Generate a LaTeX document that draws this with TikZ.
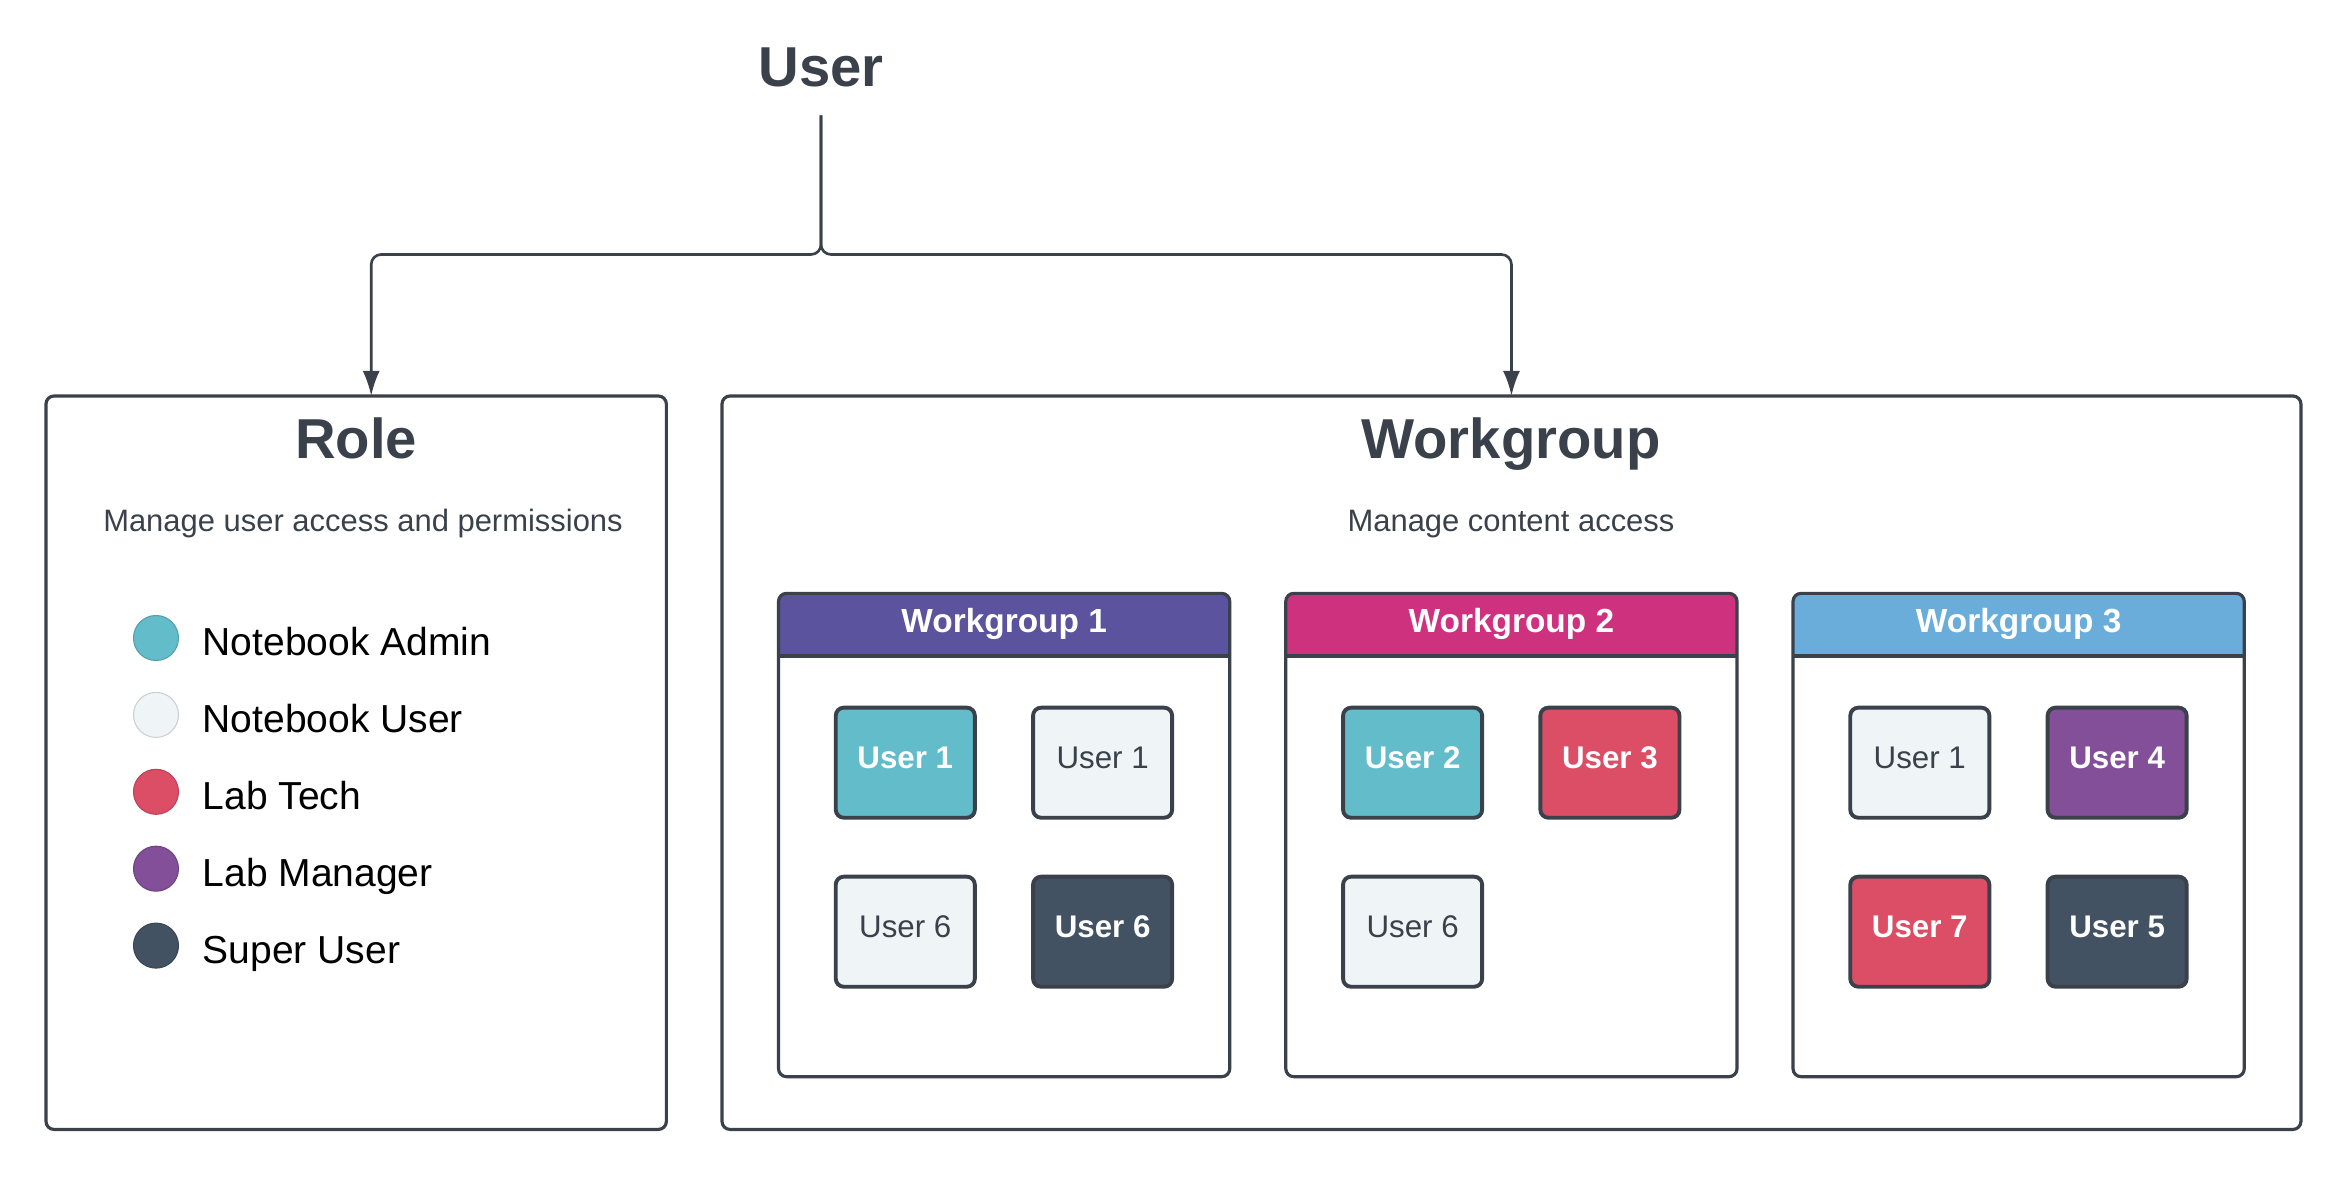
\documentclass[tikz,border=0pt]{standalone}
\usepackage{fontspec}
\setmainfont{Liberation Sans}
\usepackage{tikz}
\usetikzlibrary{arrows.meta,%
                positioning}

\definecolor{ink}{HTML}{3A414A}
\definecolor{admincol}{HTML}{62BCCA}
\definecolor{usercol}{HTML}{EFF4F7}
\definecolor{techcol}{HTML}{DC4E66}
\definecolor{mgrcol}{HTML}{824F98}
\definecolor{supercol}{HTML}{435262}
\definecolor{wgA}{HTML}{5B539D}
\definecolor{wgB}{HTML}{CE317E}
\definecolor{wgC}{HTML}{6AADDB}

\tikzset{
  headline/.style={font=\fontsize{16}{19}\selectfont\bfseries, text=ink},
  subline/.style={font=\fontsize{8.8}{11}\selectfont, text=ink},
  panel/.style={draw=ink, line width=0.9pt, rounded corners=0.08cm,
    outer sep=0pt, inner sep=0pt, anchor=north west},
  wgbox/.style={fill=white, rounded corners=0.08cm, outer sep=0pt, inner sep=0pt,
    anchor=north west, minimum width=4.51cm, minimum height=4.83cm},
  wghead/.style={font=\fontsize{9.5}{11}\selectfont\bfseries, text=white, anchor=base},
  conn/.style={draw=ink, line width=0.75pt, rounded corners=0.1cm,
    -{Latex[length=0.25cm,width=0.17cm]}},
  legdot/.style={circle, minimum size=0.45cm, inner sep=0pt, fill=#1,
    draw=#1!85!black, line width=0.3pt},
  legtext/.style={font=\fontsize{11.1}{13}\selectfont, text=black, anchor=base west,
    inner xsep=0pt},
  ubox/.style={draw=ink, line width=1.1pt, rounded corners=0.08cm,
    minimum width=1.39cm, minimum height=1.1cm, inner sep=0pt,
    font=\fontsize{8.9}{11}\selectfont, text=ink,
    text height=4.6pt, text depth=1.1pt},
  admin/.style={ubox, fill=admincol, text=white, font=\fontsize{8.9}{11}\selectfont\bfseries},
  nbuser/.style={ubox, fill=usercol},
  labtech/.style={ubox, fill=techcol, text=white, font=\fontsize{8.9}{11}\selectfont\bfseries},
  labmgr/.style={ubox, fill=mgrcol, text=white, font=\fontsize{8.9}{11}\selectfont\bfseries},
  superuser/.style={ubox, fill=supercol, text=white, font=\fontsize{8.9}{11}\selectfont\bfseries}
}

\begin{document}
\begin{tikzpicture}[x=0.01cm,y=-0.01cm]
\useasboundingbox (0,0) rectangle (2352,1186);

% top
\node[headline, anchor=base, inner ysep=0.27cm] (user) at (821,87) {User};

% the two panels
\node[panel, minimum width=6.2cm, minimum height=7.33cm] (role) at (46,396) {};
\node[panel, minimum width=15.78cm, minimum height=7.33cm] (wgall) at (722,396) {};

\node[headline, anchor=base] (roletitle) at (356,459) {Role};
\node[subline, anchor=base] (rolesub) at (363,532) {Manage user access and permissions};
\node[headline, anchor=base] (wgtitle) at (1511,459) {Workgroup};
\node[subline, anchor=base] (wgsub) at (1511,532) {Manage content access};

% connectors
\coordinate (split) at (821,254.5);
\draw[conn] (user.south) -- (split) -| ([xshift=0.15cm]role.north);
\draw[conn] (user.south) -- (split) -| (wgall.north);

% legend
\foreach \st/\txt [count=\k from 0] in {admincol/Notebook Admin, usercol/Notebook User,
    techcol/Lab Tech, mgrcol/Lab Manager, supercol/Super User}{
  \node[legdot=\st] (dot\k) at (156,{638+76.9*\k}) {};
  \node[legtext] (leg\k) at (202,{656+76.9*\k}) {\txt};
}

% workgroups
\foreach \i/\col/\xx in {1/wgA/778.5, 2/wgB/1285.75, 3/wgC/1793}{
  \node[wgbox] (wg\i) at (\xx,593.4) {};
  \begin{scope}
    \clip[rounded corners=0.08cm] (wg\i.south west) rectangle (wg\i.north east);
    \fill[\col] (wg\i.north west) rectangle ([yshift=-0.626cm]wg\i.north east);
  \end{scope}
  \draw[ink, line width=0.9pt, rounded corners=0.08cm] (wg\i.south west) rectangle (wg\i.north east);
  \draw[ink, line width=1.1pt] ([yshift=-0.626cm]wg\i.north west) -- ([yshift=-0.626cm]wg\i.north east);
  \node[wghead] (wghead\i) at ([yshift=-0.386cm]wg\i.north) {Workgroup \i};
}

% members
\foreach \nm/\st/\x/\y/\txt in {
    w1a/admin/905.3/762.7/User 1, w1b/nbuser/1102.6/762.7/User 1,
    w1c/nbuser/905.3/931.7/User 6, w1d/superuser/1102.6/931.7/User 6,
    w2a/admin/1412.6/762.7/User 2, w2b/labtech/1609.9/762.7/User 3,
    w2c/nbuser/1412.6/931.7/User 6,
    w3a/nbuser/1919.8/762.7/User 1, w3b/labmgr/2117.1/762.7/User 4,
    w3c/labtech/1919.8/931.7/User 7, w3d/superuser/2117.1/931.7/User 5}{
  \node[\st] (\nm) at (\x,\y) {\txt};
}
\end{tikzpicture}
\end{document}
